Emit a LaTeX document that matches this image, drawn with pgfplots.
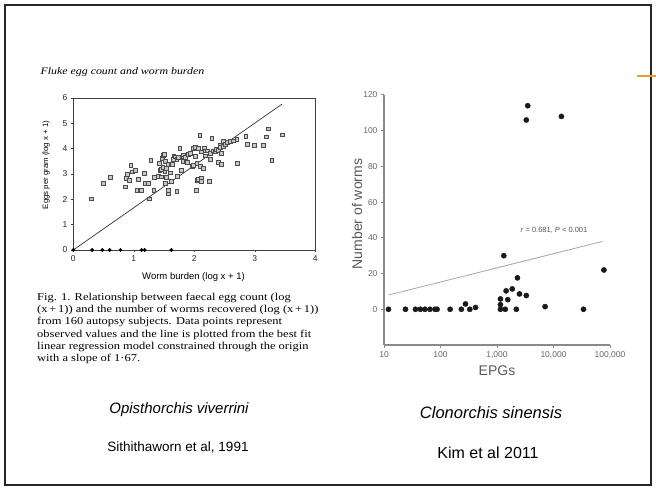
\documentclass[border=0pt]{standalone}
\usepackage{pgfplots}
\pgfplotsset{compat=1.18}
\usepackage{fontspec}
\setmainfont{Liberation Sans}
\newfontfamily\scanserif[FakeStretch=1.19]{Liberation Serif}
\definecolor{axgray}{HTML}{8A8A8A}
\definecolor{slideorange}{HTML}{E5A02A}

\pgfplotstableread{
x y
0.30 2.02
0.49 2.63
0.61 2.88
0.86 2.50
0.87 2.83
0.89 2.99
0.92 2.75
0.95 3.35
0.97 3.09
1.02 3.15
1.05 2.35
1.08 2.79
1.12 2.35
1.17 3.04
1.19 2.62
1.24 2.62
1.25 2.02
1.28 3.54
1.33 2.35
1.34 2.88
1.41 2.92
1.42 3.42
1.43 3.16
1.45 3.19
1.46 2.89
1.47 3.61
1.48 3.28
1.49 3.75
1.50 3.78
1.51 3.09
1.52 2.65
1.52 3.49
1.53 2.88
1.54 3.23
1.56 3.39
1.57 2.32
1.57 2.22
1.57 2.37
1.60 3.05
1.62 2.72
1.63 3.39
1.65 3.58
1.66 3.72
1.68 3.68
1.71 2.32
1.71 3.58
1.72 2.92
1.74 3.65
1.76 4.01
1.79 3.15
1.81 3.49
1.82 3.68
1.82 3.76
1.85 3.65
1.89 3.45
1.90 3.79
1.93 3.82
1.96 3.32
1.98 4.01
1.98 3.36
2.01 3.71
2.01 4.05
2.03 2.35
2.04 3.42
2.04 2.76
2.07 4.01
2.07 2.79
2.09 4.54
2.10 3.32
2.11 2.85
2.12 3.88
2.12 2.70
2.15 3.23
2.16 4.02
2.18 3.92
2.18 3.72
2.21 3.92
2.25 2.70
2.26 3.58
2.26 3.82
2.29 4.42
2.31 3.92
2.34 3.88
2.36 3.98
2.39 3.95
2.40 3.45
2.42 4.15
2.43 4.05
2.45 3.40
2.45 3.82
2.48 4.08
2.48 4.28
2.51 4.18
2.54 4.24
2.59 4.28
2.64 4.31
2.70 4.37
2.71 3.42
2.85 4.50
2.88 4.18
2.99 4.15
3.14 4.15
3.19 4.47
3.22 4.79
3.28 3.53
3.46 4.55
}\flukedata

\pgfplotstableread{
x y
0 0
0.31 0
0.48 0
0.60 0
0.78 0
1.13 0
1.18 0
1.62 0
}\flukezero

\pgfplotstableread{
x y
12 0
24 0
36 0
44 0
53 0
65 0
80 0
87 0
148 0
234 0
277 3
330 0
417 1
1150 5.8
1150 2.6
1150 0
1400 0
2200 0
1550 5.4
1450 10.3
1860 11.4
2300 17.6
2500 8.6
3300 7.7
1320 30
3300 106
3500 114
13800 108
7100 1.5
34000 0
78000 22
}\clonodata

\begin{document}
\begin{tikzpicture}[x=1pt,y=1pt]
\useasboundingbox (0,0) rectangle (656,490);
\fill[white] (0,0) rectangle (656,490);
\draw[line width=1.6pt, black!85] (5,5) rectangle (651,485);
\draw[slideorange, line width=1.2pt] (637,414) -- (656,414);

% ---------- left panel ----------
\node[anchor=base west, font=\scanserif\itshape\fontsize{10}{12}\selectfont] at (37,415.5) {Fluke egg count and worm burden};

\begin{axis}[
  at={(73.3pt,240pt)}, anchor=south west, scale only axis,
  width=242pt, height=152pt,
  xmin=0, xmax=4, ymin=0, ymax=6,
  xtick={0,1,2,3,4}, ytick={0,1,2,3,4,5,6},
  minor x tick num=1,
  tick pos=left, tick align=outside,
  major tick length=2.5pt, minor tick length=1.5pt,
  axis line style={black!75, line width=0.6pt},
  every tick/.style={black!75, line width=0.5pt},
  tick label style={font=\fontsize{8.5}{9}\selectfont, text=black!85},
  /pgf/number format/assume math mode=true,
  clip=false,
]
\addplot[only marks, mark=square*, mark size=1.9pt,
  mark options={draw=black!70, fill=black!22, line width=0.5pt}] table {\flukedata};
\addplot[black!80, line width=0.7pt] coordinates {(0,0) (3.45,5.76)};
\addplot[only marks, mark=*, mark size=1.7pt, black] table {\flukezero};
\end{axis}

\node[rotate=90, font=\fontsize{7.8}{8}\selectfont] at (46,325) {Eggs per gram (log x + 1)};
\node[font=\fontsize{9.5}{10}\selectfont] at (193.5,213) {Worm burden (log x + 1)};

\begin{scope}[every node/.style={anchor=base west, inner sep=0pt, font=\scanserif\fontsize{10.5}{12}\selectfont}]
\node at (37,189.5) {Fig. 1. Relationship between faecal egg count (log};
\node at (37,177.3) {(x\,+\,1)) and the number of worms recovered (log (x\,+\,1))};
\node at (37,165.1) {from 160 autopsy subjects. Data points represent};
\node at (37,152.9) {observed values and the line is plotted from the best fit};
\node at (37,140.7) {linear regression model constrained through the origin};
\node at (37,128.5) {with a slope of 1·67.};
\end{scope}

\node[font=\itshape\fontsize{15}{16}\selectfont] at (179,80) {Opisthorchis viverrini};
\node[font=\fontsize{13.5}{15}\selectfont] at (178,43) {Sithithaworn et al, 1991};

% ---------- right panel ----------
\begin{axis}[
  at={(384pt,145pt)}, anchor=south west, scale only axis,
  width=226pt, height=250pt,
  xmode=log, xmin=10, xmax=100000, ymin=-20, ymax=120,
  axis x line*=bottom, axis y line*=left,
  xtick={10,100,1000,10000,100000},
  xticklabels={10,100,{1,000},{10,000},{100,000}},
  ytick={0,20,40,60,80,100,120},
  xminorticks=false,
  tick align=outside,
  major tick length=3pt,
  axis line style={axgray, line width=1.3pt},
  every tick/.style={axgray, line width=1pt},
  tick label style={font=\fontsize{8.5}{9}\selectfont, text=black!60},
  /pgf/number format/assume math mode=true,
  clip=false,
]
\addplot[gray!70, line width=0.8pt] coordinates {(12,8) (74000,38)};
\addplot[only marks, mark=*, mark size=2.6pt, black!90] table {\clonodata};
\end{axis}

\node[rotate=90, font=\fontsize{14}{15}\selectfont, text=black!65] at (357,276) {Number of worms};
\node[font=\fontsize{14}{15}\selectfont, text=black!65] at (497,119) {EPGs};
\node[font=\fontsize{7.5}{8}\selectfont, text=black!65] at (554,260) {\textit{r} = 0.681, \textit{P} < 0.001};

\node[font=\itshape\fontsize{16.5}{18}\selectfont] at (491,77) {Clonorchis sinensis};
\node[font=\fontsize{16}{18}\selectfont] at (488,37) {Kim et al 2011};
\end{tikzpicture}
\end{document}
